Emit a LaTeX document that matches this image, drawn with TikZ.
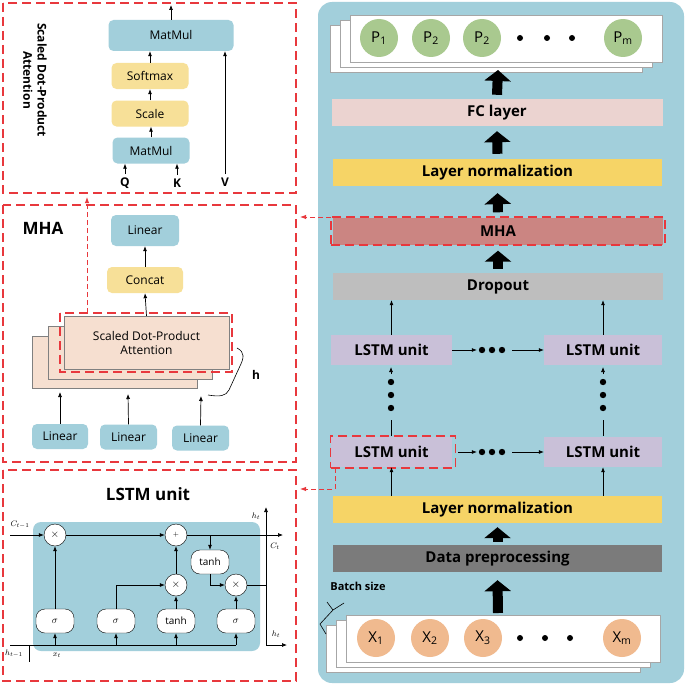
\documentclass[tikz,border=0pt]{standalone}
\usepackage{fontspec}
\setmainfont{Open Sans}
\usetikzlibrary{arrows.meta,calc}
\definecolor{pblue}{HTML}{A2CFDB}
\definecolor{pyel}{HTML}{F6D466}
\definecolor{lyel}{HTML}{F7E098}
\definecolor{fcpink}{HTML}{EBD3D0}
\definecolor{mhared}{HTML}{CB8582}
\definecolor{dgray}{HTML}{7B7B7B}
\definecolor{lgray}{HTML}{BEBEBE}
\definecolor{lav}{HTML}{C9C0D8}
\definecolor{pgreen}{HTML}{A9C98F}
\definecolor{xorange}{HTML}{F0BA8F}
\definecolor{peach}{HTML}{F6DFD0}
\definecolor{rdash}{HTML}{E8383D}
\tikzset{
 bar/.style={minimum height=27pt,inner sep=0pt,font=\bfseries\fontsize{15}{15}\selectfont,text=black},
 rbox/.style={rounded corners=5pt,inner sep=0pt,font=\fontsize{12}{12}\selectfont},
 redbox/.style={draw=rdash,dash pattern=on 9pt off 5pt,line width=1.1pt},
 rdl/.style={draw=rdash,dash pattern=on 5pt off 3pt,line width=0.9pt},
 big/.style={line width=10pt,-{Triangle[width=26pt,length=11pt]}},
 sa/.style={-{Latex[length=5pt,width=4pt]},line width=0.7pt},
 gate/.style={circle,draw,fill=white,minimum size=22pt,inner sep=0pt,font=\fontsize{11}{11}\selectfont},
 act/.style={rounded corners=9pt,draw,fill=white,minimum width=38pt,minimum height=24pt,inner sep=0pt,font=\fontsize{10}{10}\selectfont},
 dotc/.style={circle,fill=black,minimum size=6pt,inner sep=0pt},
 hdots/.style={minimum width=30pt,minimum height=8pt,inner sep=0pt},
 pc/.style={circle,fill=pgreen,minimum size=38pt,inner sep=0pt,font=\fontsize{15}{15}\selectfont},
 xc/.style={circle,fill=xorange,minimum size=38pt,inner sep=0pt,font=\fontsize{15}{15}\selectfont},
}
\begin{document}
\begin{tikzpicture}[x=1pt,y=-1pt]
\useasboundingbox (0,0) rectangle (685,685);
\fill[white] (0,0) rectangle (685,685);
% right panel
\fill[pblue,rounded corners=14pt] (318,2) rectangle (684,683);
% output stack
\foreach \d in {20,10,0} \draw[gray!70,fill=white] (350-\d,15+\d/2) rectangle (662-\d,62+\d/2);
\node[pc] (p1) at (379,38) {P\textsubscript{1}};
\node[pc] (p2) at (431,38) {P\textsubscript{2}};
\node[pc] (p3) at (482,38) {P\textsubscript{2}};
\foreach \x in {520,547,572} \node[dotc] at (\x,38) {};
\node[pc] (pm) at (623,38) {P\textsubscript{m}};
\coordinate (outb) at (498,70);
\node[bar,fill=fcpink,minimum width=331pt] (fc) at (497,112.5) {FC layer};
\node[bar,fill=pyel,minimum width=329pt] (ln1) at (497.5,172.5) {Layer normalization};
\node[bar,fill=mhared,minimum width=330pt] (mha) at (498,231) {MHA};
\node[redbox,minimum width=334pt,minimum height=28pt] at (498,231) {};
\node[bar,fill=lgray,minimum width=330pt] (drop) at (498,286.5) {Dropout};
\draw[big] ($(fc.north)+(0,-4)$) -- (outb);
\draw[big] ($(ln1.north)+(0,-5)$) -- ($(fc.south)+(0,5)$);
\draw[big] ($(mha.north)+(0,-5)$) -- ($(ln1.south)+(0,7)$);
\draw[big] ($(drop.north)+(0,-4)$) -- ($(mha.south)+(0,6)$);
% LSTM units
\node[bar,fill=lav,minimum width=121pt,minimum height=30pt] (l1) at (391.5,350) {LSTM unit};
\node[bar,fill=lav,minimum width=118pt,minimum height=30pt] (l2) at (603,350) {LSTM unit};
\node[bar,fill=lav,minimum width=121pt,minimum height=30pt] (l3) at (391.5,452) {LSTM unit};
\node[bar,fill=lav,minimum width=118pt,minimum height=30pt] (l4) at (603,452) {LSTM unit};
\node[redbox,minimum width=125pt,minimum height=32pt] (l3r) at (393,452) {};
\draw[sa] (l1.north) -- (l1.north|-drop.south);
\draw[sa] (l2.north) -- (l2.north|-drop.south);
\node[hdots] (d1) at (492,350) {};
\node[hdots] (d2) at (492,452) {};
\foreach \n in {d1,d2} \foreach \i in {-10,0,10} \fill ($(\n)+(\i,0)$) circle (3.2pt);
\draw[sa] (l1.east) -- (d1.west);
\draw[sa] ($(d1.east)+(5,0)$) -- (l2.west);
\draw[sa] ($(l3.east)+(6,0)$) -- (d2.west);
\draw[sa] ($(d2.east)+(5,0)$) -- (l4.west);
\foreach \x in {391,603}{
 \foreach \y in {382,395,408} \fill (\x,\y) circle (3.2pt);
 \draw[sa] (\x,374) -- (\x,367);
 \draw[line width=0.7pt] (\x,420) -- (\x,436);
}
\node[bar,fill=pyel,minimum width=329pt] (ln2) at (497.5,509.5) {Layer normalization};
\node[bar,fill=dgray,minimum width=329pt] (dp) at (497.5,558.5) {Data preprocessing};
\draw[sa] (l3.south|-ln2.north) -- (l3.south);
\draw[sa] (l4.south|-ln2.north) -- (l4.south);
\draw[big] ($(dp.north)+(0,-3)$) -- ($(ln2.south)+(0,4)$);
% input stack
\foreach \d in {20,10,0} \draw[gray!70,fill=white] (346-\d,615+\d/2) rectangle (660-\d,662+\d/2);
\node[xc] (x1) at (376,638) {X\textsubscript{1}};
\node[xc] (x2) at (430,638) {X\textsubscript{2}};
\node[xc] (x3) at (483,638) {X\textsubscript{3}};
\foreach \x in {520,545,570} \node[dotc] at (\x,638) {};
\node[xc] (xm) at (622,638) {X\textsubscript{m}};
\draw[big] (498,613) -- ($(dp.south)+(0,8)$);
\node[font=\bfseries\fontsize{11}{11}\selectfont] (bs) at (358,586) {Batch size};
\draw[line width=0.6pt] (327,602) -- (333,610) -- (344,603) (333,610) -- (320,624) -- (326,634);
% ===== left panels
\draw[redbox] (3,3) rectangle (296,193);
\draw[redbox] (3,205) rectangle (296,462);
\draw[redbox] (3,470) rectangle (296,681);
% scaled dot-product attention
\node[rotate=-90,align=center,font=\bfseries\fontsize{12}{14}\selectfont] at (35,80) {Scaled Dot-Product\\Attention};
\node[rbox,fill=pblue,minimum width=125pt,minimum height=31pt] (mm2) at (171,35.5) {MatMul};
\node[rbox,fill=lyel,minimum width=77pt,minimum height=26pt] (sm) at (150,76) {Softmax};
\node[rbox,fill=lyel,minimum width=77pt,minimum height=26pt] (sc) at (150,113.5) {Scale};
\node[rbox,fill=pblue,minimum width=77pt,minimum height=26pt] (mm1) at (151,150.5) {MatMul};
\node[font=\bfseries\fontsize{12}{12}\selectfont] (q) at (125,183) {Q};
\node[font=\bfseries\fontsize{12}{12}\selectfont] (k) at (177,183) {K};
\node[font=\bfseries\fontsize{12}{12}\selectfont] (v) at (225,182) {V};
\coordinate (top) at (171,5);
\draw[sa] (mm2.north) -- (top);
\draw[sa] (sm.north) -- (sm.north|-mm2.south);
\draw[sa] (sc.north) -- (sc.north|-sm.south);
\draw[sa] (mm1.north) -- (mm1.north|-sc.south);
\draw[sa] (q.north) -- (q.north|-mm1.south);
\draw[sa] (k.north) -- (k.north|-mm1.south);
\draw[sa] (v.north) -- (v.north|-mm2.south);
% MHA
\node[font=\bfseries\fontsize{17}{17}\selectfont] at (43,228) {MHA};
\node[rbox,fill=pblue,minimum width=68pt,minimum height=31pt] (lin) at (145,230.5) {Linear};
\node[rbox,fill=lyel,minimum width=76pt,minimum height=26pt] (cc) at (145,280) {Concat};
\draw[gray,fill=peach] (32,336) rectangle (197,388);
\draw[gray,fill=peach] (48,326) rectangle (212,379);
\node[draw=gray,fill=peach,minimum width=165pt,minimum height=53pt,inner sep=0pt,align=center,font=\fontsize{12}{14}\selectfont] (sdpa) at (146.5,342.5) {Scaled Dot-Product\\Attention};
\draw[redbox] (60,313) rectangle (232,372);
\draw[sa] (sdpa.north) -- (cc.south);
\draw[sa] (cc.north) -- (lin.south);
\draw[rdl,-{Latex[length=6pt]}] (87,313) -- (87,197);
\draw[line width=0.6pt] (237,348) .. controls (245,352) and (244,358) .. (240,366) -- (229,390) .. controls (226,396) and (220,397) .. (208,395);
\node[font=\bfseries\fontsize{12}{12}\selectfont] at (256,375) {h};
\node[rbox,fill=pblue,minimum width=56pt,minimum height=25pt] (la) at (60,436.5) {Linear};
\node[rbox,fill=pblue,minimum width=57pt,minimum height=25pt] (lb) at (128.5,437) {Linear};
\node[rbox,fill=pblue,minimum width=57pt,minimum height=25pt] (lc) at (200.5,438) {Linear};
\draw[sa] (la.north) -- (60,392);
\draw[sa] (lb.north) -- (128,394);
\draw[sa] (lc.north) -- (201,396);
% dashed links from right panel
\draw[rdl,-{Latex[length=6pt]}] (331,217) -- (300,217);
\draw[rdl,-{Latex[length=6pt]}] (335,468) -- (335,489) -- (300,489);
% LSTM unit detail
\node[font=\bfseries\fontsize{17}{17}\selectfont] at (148,494) {LSTM unit};
\fill[pblue,rounded corners=8pt] (33,522) rectangle (260,651);
\node[gate] (g1) at (55,535) {$\times$};
\node[gate] (g2) at (176,535) {\scriptsize$+$};
\node[act] (t2) at (210,562) {tanh};
\node[gate] (g3) at (176,585) {$\times$};
\node[gate] (g4) at (236,585) {$\times$};
\node[act] (s1) at (55,621) {$\sigma$};
\node[act] (s2) at (116,621) {$\sigma$};
\node[act] (t1) at (176,621) {tanh};
\node[act] (s3) at (236,621) {$\sigma$};
\coordinate (cin) at (10,535);
\coordinate (cout) at (283,535);
\coordinate (hup) at (266,507);
\coordinate (hout) at (287,645);
\draw[sa] (cin) -- (g1);
\draw[sa] (g1) -- (g2);
\draw[sa] (g2) -- (cout);
\draw[sa] (210,535) -- (t2.north);
\draw[sa] (s1) -- (g1);
\draw[sa] (s2.north) |- (g3.west);
\draw[sa] (t1) -- (g3);
\draw[sa] (g3) -- (g2);
\draw[sa] (t2.south) |- (g4.west);
\draw[sa] (s3) -- (g4);
\draw[line width=0.7pt] (g4.east) -- (266,585);
\draw[sa] (266,645) -- (hup);
\draw[sa] (266,645) -- (hout);
\draw[line width=0.7pt] (10,645) -- (236,645) (29,645) -- (29,662);
\foreach \n in {s1,s2,t1,s3} \draw[sa] (\n.south|-0,645) -- (\n.south);
\node[font=\fontsize{8}{8}\selectfont] at (20,525) {$C_{t-1}$};
\node[font=\fontsize{8}{8}\selectfont] at (275,546) {$C_t$};
\node[font=\fontsize{8}{8}\selectfont] at (256,516) {$h_t$};
\node[font=\fontsize{8}{8}\selectfont] at (276,634) {$h_t$};
\node[font=\fontsize{8}{8}\selectfont] at (14,654) {$h_{t-1}$};
\node[font=\fontsize{8}{8}\selectfont] at (57,655) {$x_t$};
\end{tikzpicture}
\end{document}
